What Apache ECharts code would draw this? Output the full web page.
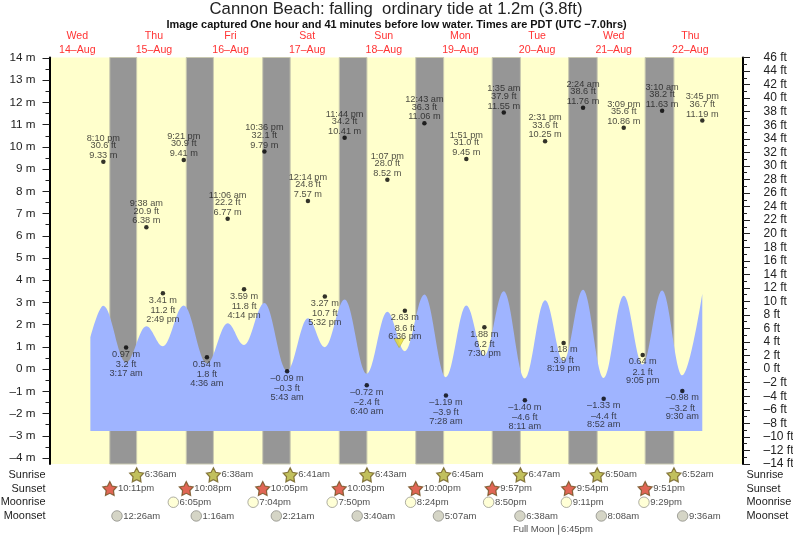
<!DOCTYPE html>
<html><head><meta charset="utf-8">
<style>html,body{margin:0;padding:0;background:#fff}#c{width:793px;height:538px}</style>
<script src="https://cdn.jsdelivr.net/npm/echarts@6/dist/echarts.min.js"></script>
</head><body><div id="c"></div>
<script>
const titleText = 'Cannon Beach: falling  ordinary tide at 1.2m (3.8ft)';
const subtitleText = 'Image captured One hour and 41 minutes before low water. Times are PDT (UTC \u22127.0hrs)';
const dayNames = ['Wed','Thu','Fri','Sat','Sun','Mon','Tue','Wed','Thu'];
const dayDates = [14,15,16,17,18,19,20,21,22];
const metreTicks = [-4,-3,-2,-1,0,1,2,3,4,5,6,7,8,9,10,11,12,13,14];
const metreMinor = [-3.5,-2.5,-1.5,-0.5,0.5,1.5,2.5,3.5,4.5,5.5,6.5,7.5,8.5,9.5,10.5,11.5,12.5,13.5];
const rows = ['Sunrise','Sunset','Moonrise','Moonset',''];

// tide curve: [day of August, hour of day]
const curveDay  = [14,14,15,15,15,15,16,16,16,16,17,17,17,17,18,18,18,19,19,19,19,20,20,20,20,21,21,21,21,22,22,22];
const curveHour = [16.1,20.17,3.28,9.63,14.82,21.35,4.6,11.1,16.23,22.6,5.72,12.23,17.53,23.73,6.67,13.12,18.6,0.72,7.47,13.85,19.5,1.58,8.18,14.52,20.32,2.4,8.87,15.15,21.08,3.17,9.5,15.75];
const curveM    = [1.42,2.85,0.3,1.93,1.03,2.86,0.25,2.07,1.09,2.98,-0.07,2.29,0.99,3.13,-0.21,2.58,0.81,3.36,-0.36,2.86,0.6,3.5,-0.42,3.1,0.36,3.57,-0.4,3.3,0.21,3.54,-0.28,3.39];
const curveFloor = -2.78;

const highDay  = [14,15,15,16,16,17,17,18,19,19,20,20,21,21,22,22];
const highTime = ['8:10 pm','9:38 am','9:21 pm','11:06 am','10:36 pm','12:14 pm','11:44 pm','1:07 pm','12:43 am','1:51 pm','1:35 am','2:31 pm','2:24 am','3:09 pm','3:10 am','3:45 pm'];
const highFt   = ['30.6','20.9','30.9','22.2','32.1','24.8','34.2','28.0','36.3','31.0','37.9','33.6','38.6','35.6','38.2','36.7'];
const highM    = ['9.33','6.38','9.41','6.77','9.79','7.57','10.41','8.52','11.06','9.45','11.55','10.25','11.76','10.86','11.63','11.19'];

const lowDay  = [15,15,16,16,17,17,18,18,19,19,20,20,21,21,22];
const lowTime = ['3:17 am','2:49 pm','4:36 am','4:14 pm','5:43 am','5:32 pm','6:40 am','6:36 pm','7:28 am','7:30 pm','8:11 am','8:19 pm','8:52 am','9:05 pm','9:30 am'];
const lowFt   = ['3.2','11.2','1.8','11.8','-0.3','10.7','-2.4','8.6','-3.9','6.2','-4.6','3.9','-4.4','2.1','-3.2'];
const lowM    = ['0.97','3.41','0.54','3.59','-0.09','3.27','-0.72','2.63','-1.19','1.88','-1.40','1.18','-1.33','0.64','-0.98'];

const sunriseDay = [15,16,17,18,19,20,21,22];
const sunrise = ['6:36am','6:38am','6:41am','6:43am','6:45am','6:47am','6:50am','6:52am'];
const sunsetDay = [14,15,16,17,18,19,20,21];
const sunset = ['10:11pm','10:08pm','10:05pm','10:03pm','10:00pm','9:57pm','9:54pm','9:51pm'];
const moonriseDay = [15,16,17,18,19,20,21];
const moonrise = ['6:05pm','7:04pm','7:50pm','8:24pm','8:50pm','9:11pm','9:29pm'];
const moonsetDay = [15,16,17,18,19,20,21,22];
const moonset = ['12:26am','1:16am','2:21am','3:40am','5:07am','6:38am','8:08am','9:36am'];
const fullMoonDay = 20, fullMoonTime = '6:45pm';
const markerDay = 18, markerClock = '4:48pm', markerM = 1.17;

const dash = s => s.replace('-', '\u2013');
function hrs(day, txt){
  const m = txt.match(/(\d+):(\d+)\s*(am|pm)/);
  let h = (+m[1]) % 12; if (m[3] === 'pm') h += 12;
  return (day - 14) * 24 + h + (+m[2]) / 60;
}
const X0 = 3.3, X1 = 220.5, FT = 0.3048;
const yMin = -14 * FT, yMax = 46 * FT;
const FONT = '"Liberation Sans", Arial, sans-serif';
const curve = curveM.map((v,i)=>[(curveDay[i]-14)*24+curveHour[i], v]);
const nights = sunset.map((s,i)=>[{xAxis:hrs(sunsetDay[i],s)},{xAxis:hrs(sunriseDay[i],sunrise[i])}]);

const highPts = highM.map((m,i)=>[hrs(highDay[i],highTime[i]),+m]);
const lowPts = lowM.map((m,i)=>[hrs(lowDay[i],lowTime[i]),+m]);

function textLine(pts, texts, dy){
  return {type:'scatter',xAxisIndex:0,yAxisIndex:0,z:6,symbolSize:0,silent:true,clip:false,
    data:pts.map((p,i)=>({value:p,label:{formatter:texts[i]}})),
    label:{show:true,position:'inside',offset:[0,dy],color:'#1c1c1c',fontSize:9.2,fontFamily:FONT}};
}
const star = 'path://M0,-10 L3.1,-4.2 L9.5,-3.1 L5,1.6 L5.9,8.1 L0,5.2 L-5.9,8.1 L-5,1.6 L-9.5,-3.1 L-3.1,-4.2 Z';
function rowSeries(row, days, times, symbol, size, fill, border, bw){
  return {type:'scatter',xAxisIndex:1,yAxisIndex:3,z:5,symbol,symbolSize:size,silent:true,
    itemStyle:{color:fill,borderColor:border,borderWidth:bw},
    data:times.map((t,i)=>({value:[hrs(days[i],t),row],label:{formatter:t}})),
    label:{show:true,position:'right',distance:0.5,color:'#222',fontSize:9.5,fontFamily:FONT}};
}

const chart = echarts.init(document.getElementById('c'),null,{renderer:'canvas'});
chart.setOption({
  animation:false,
  backgroundColor:'#fff',
  title:[
    {text:titleText,left:391,top:-4,textAlign:'center',textStyle:{fontSize:16.7,fontWeight:'normal',color:'#222',fontFamily:FONT}},
    {text:subtitleText,left:391.5,top:14,textAlign:'center',textStyle:{fontSize:10.95,fontWeight:'bold',color:'#111',fontFamily:FONT}}
  ],
  grid:[
    {left:49.5,right:50,top:57.5,height:406.5,show:true,backgroundColor:'#FFFFCC',borderWidth:0,outerBoundsMode:'none'},
    {left:49.5,right:50,top:468,height:68.5,show:false,outerBoundsMode:'none'}
  ],
  xAxis:[
    {type:'value',gridIndex:0,position:'top',min:X0,max:X1,splitLine:{show:false},axisLine:{show:false},axisTick:{show:false},
     axisLabel:{show:true,customValues:dayDates.map((d,i)=>i*24+12),margin:1,lineHeight:13.5,color:'#f33',fontSize:10.6,fontFamily:FONT,hideOverlap:false,
       formatter:v=>{const i=Math.round((v-12)/24);return dayNames[i]+'\n'+dayDates[i]+'\u2013Aug';}}},
    {type:'value',gridIndex:1,min:X0,max:X1,show:false}
  ],
  yAxis:[
    {type:'value',gridIndex:0,position:'left',min:yMin,max:yMax,splitLine:{show:false},
     axisLine:{show:true,lineStyle:{color:'#000',width:2}},
     axisTick:{show:true,customValues:metreTicks,length:7,lineStyle:{color:'#222',width:1}},
     axisLabel:{show:true,customValues:metreTicks,margin:14,color:'#222',fontSize:11.7,fontFamily:FONT,formatter:v=>dash(Math.round(v)+' m')}},
    {type:'value',gridIndex:0,position:'right',min:-14,max:46,interval:2,splitLine:{show:false},
     axisLine:{show:true,lineStyle:{color:'#000',width:2}},
     axisTick:{show:true,length:7,lineStyle:{color:'#222',width:1}},
     minorTick:{show:true,splitNumber:2,length:4,lineStyle:{color:'#222',width:1}},
     axisLabel:{show:true,margin:20.5,color:'#222',fontSize:12,fontFamily:FONT,formatter:v=>dash(v+' ft')}},
    {type:'value',gridIndex:0,position:'left',min:yMin,max:yMax,splitLine:{show:false},axisLine:{show:false},
     axisTick:{show:true,customValues:metreMinor,length:4,lineStyle:{color:'#222',width:1}},axisLabel:{show:false}},
    {type:'category',gridIndex:1,position:'left',data:rows,inverse:true,axisLine:{show:false},axisTick:{show:false},splitLine:{show:false},
     axisLabel:{interval:0,margin:4,color:'#222',fontSize:10.9,fontFamily:FONT}},
    {type:'category',gridIndex:1,position:'right',data:rows,inverse:true,axisLine:{show:false},axisTick:{show:false},splitLine:{show:false},
     axisLabel:{interval:0,margin:3.5,color:'#222',fontSize:10.9,fontFamily:FONT}}
  ],
  series:[
    {type:'line',xAxisIndex:0,yAxisIndex:0,z:1,data:[],silent:true,
     markArea:{silent:true,itemStyle:{color:'#969696',borderColor:'#c9c9b0',borderWidth:1},data:nights}},
    {type:'line',xAxisIndex:0,yAxisIndex:0,z:2,data:curve,showSymbol:false,smooth:0.364,smoothMonotone:'x',silent:true,
     lineStyle:{width:0},areaStyle:{color:'#9FB4FF',opacity:1,origin:curveFloor}},
    {type:'scatter',xAxisIndex:0,yAxisIndex:0,z:7,symbolSize:4.5,silent:true,itemStyle:{color:'#000'},data:highPts.concat(lowPts)},
    {type:'scatter',xAxisIndex:0,yAxisIndex:0,z:5,symbol:'triangle',symbolRotate:180,symbolSize:[10,9],silent:true,
     itemStyle:{color:'#E8DC30',borderColor:'#a09a20',borderWidth:0.5},data:[[hrs(markerDay,markerClock),markerM]]},
    textLine(highPts,highTime,-23.6),
    textLine(highPts,highFt.map(s=>dash(s)+' ft'),-16.3),
    textLine(highPts,highM.map(s=>dash(s)+' m'),-6.4),
    textLine(lowPts,lowM.map(s=>dash(s)+' m'),7),
    textLine(lowPts,lowFt.map(s=>dash(s)+' ft'),17.3),
    textLine(lowPts,lowTime,26),
    rowSeries('Sunrise',sunriseDay,sunrise,star,14,'#B2B035','#6f5c20',1.2),
    rowSeries('Sunset',sunsetDay,sunset,star,14,'#D8402A','#6f5020',1.2),
    rowSeries('Moonrise',moonriseDay,moonrise,'circle',10.5,'#FFFFCC','#9a9a90',1),
    rowSeries('Moonset',moonsetDay,moonset,'circle',10.5,'#CBCBB8','#8f8f88',1),
    {type:'scatter',xAxisIndex:1,yAxisIndex:3,z:5,symbol:'rect',symbolSize:[1,10],silent:true,itemStyle:{color:'#444'},
     data:[[hrs(fullMoonDay,fullMoonTime),'']],
     label:{show:true,position:'right',distance:2,formatter:fullMoonTime,color:'#222',fontSize:9.5,fontFamily:FONT}},
    {type:'scatter',xAxisIndex:1,yAxisIndex:3,z:5,symbolSize:1,silent:true,itemStyle:{color:'transparent'},
     data:[[hrs(fullMoonDay,fullMoonTime),'']],
     label:{show:true,position:'left',distance:3.5,formatter:'Full Moon',color:'#222',fontSize:9.5,fontFamily:FONT}}
  ]
});
</script></body></html>
